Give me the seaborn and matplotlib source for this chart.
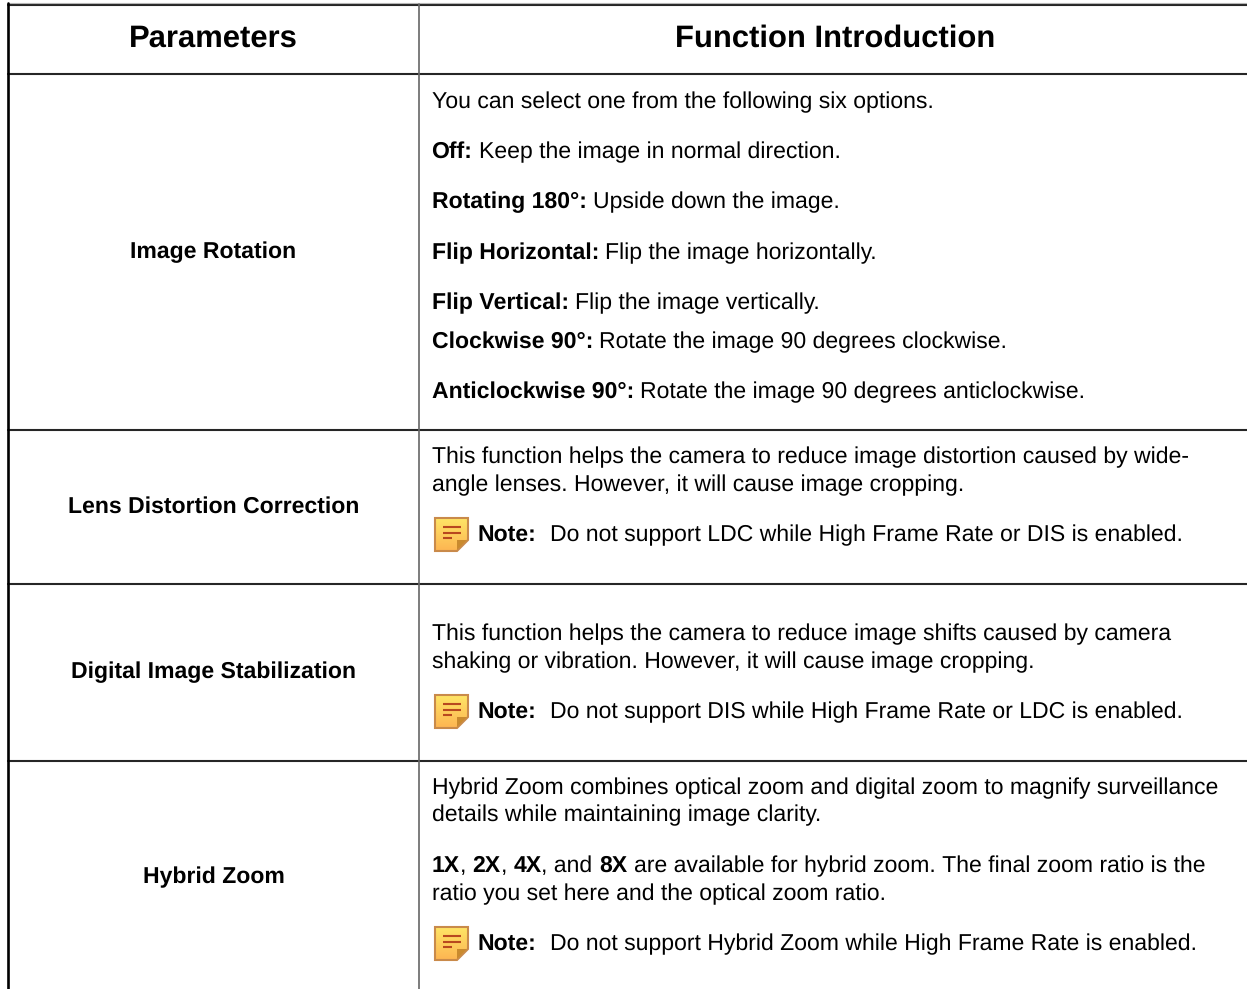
import numpy as np
import pandas as pd
import matplotlib.pyplot as plt
from matplotlib.patches import Polygon
import seaborn as sns

sns.set_theme(style="white")
plt.rcParams['font.family'] = ['Liberation Sans', 'DejaVu Sans']
plt.rcParams['text.hinting'] = 'no_hinting'
plt.rcParams['text.hinting_factor'] = 1

# Table text
headers = ["Parameters", "Function Introduction"]
parameters = ["Image Rotation", "Lens Distortion Correction", "Digital Image Stabilization", "Hybrid Zoom"]

# each line is a list of (text, is_bold) runs
rotation_lines = [
    [("You can select one from the following six options.", False)],
    [("Off:", True), (" Keep the image in normal direction.", False)],
    [("Rotating 180°:", True), (" Upside down the image.", False)],
    [("Flip Horizontal:", True), (" Flip the image horizontally.", False)],
    [("Flip Vertical:", True), (" Flip the image vertically.", False)],
    [("Clockwise 90°:", True), (" Rotate the image 90 degrees clockwise.", False)],
    [("Anticlockwise 90°:", True), (" Rotate the image 90 degrees anticlockwise.", False)],
]
lens_lines = [
    [("This function helps the camera to reduce image distortion caused by wide-", False)],
    [("angle lenses. However, it will cause image cropping.", False)],
]
digital_lines = [
    [("This function helps the camera to reduce image shifts caused by camera", False)],
    [("shaking or vibration. However, it will cause image cropping.", False)],
]
hybrid_lines = [
    [("Hybrid Zoom combines optical zoom and digital zoom to magnify surveillance", False)],
    [("details while maintaining image clarity.", False)],
    [("1X", True), (", ", False), ("2X", True), (", ", False), ("4X", True), (", and ", False), ("8X", True),
     (" are available for hybrid zoom. The final zoom ratio is the", False)],
    [("ratio you set here and the optical zoom ratio.", False)],
]
notes = [
    "Do not support LDC while High Frame Rate or DIS is enabled.",
    "Do not support DIS while High Frame Rate or LDC is enabled.",
    "Do not support Hybrid Zoom while High Frame Rate is enabled.",
]

W, H = 1247, 989
fig = plt.figure(figsize=(W / 100, H / 100), dpi=100)
ax = fig.add_axes([0, 0, 1, 1])
ax.set_xlim(0, W)
ax.set_ylim(H, 0)
ax.axis("off")

BODY = 16.5
HEAD = 22


def text_width(text, weight):
    # bars on both sides so that spaces at the ends get measured too
    renderer = fig.canvas.get_renderer()
    probe = ax.text(0, 0, "|" + text + "|", fontsize=BODY, fontweight=weight)
    bar = ax.text(0, 0, "||", fontsize=BODY, fontweight=weight)
    width = probe.get_window_extent(renderer).width - bar.get_window_extent(renderer).width
    probe.remove()
    bar.remove()
    return width


def draw_runs(runs, x, y):
    # write bold and normal pieces one after the other on the same baseline
    for text, bold in runs:
        weight = "bold" if bold else "normal"
        lead = len(text) - len(text.lstrip())
        ax.text(x + text_width(" " * lead, weight), y, text.strip(), fontsize=BODY, color="black",
                va="baseline", ha="left", fontweight=weight)
        x += text_width(text, weight)


def draw_icon(x, y):
    s = 33
    fold = 11
    outline = [(x, y), (x + s, y), (x + s, y + s - fold), (x + s - fold, y + s), (x, y + s)]
    ax.add_patch(Polygon(outline, closed=True, facecolor="none", edgecolor="#c98a4a", linewidth=1.5, zorder=4))
    grad = np.linspace(0, 1, 64).reshape(-1, 1)
    cmap = sns.blend_palette(["#ffe566", "#fdb552"], as_cmap=True)
    im = ax.imshow(grad, extent=(x, x + s, y + s, y), cmap=cmap, aspect="auto", zorder=3)
    im.set_clip_path(Polygon(outline, closed=True, transform=ax.transData))
    ax.add_patch(Polygon([(x + s - 1, y + s - fold), (x + s - fold, y + s - fold), (x + s - fold, y + s - 1)],
                         closed=True, facecolor="#c98a2e", edgecolor="none", zorder=5))
    for top, length in zip([9, 14.5, 20], [18, 18, 9]):
        ax.plot([x + 8, x + 8 + length], [y + top, y + top], color="#b8481f", lw=1.5, zorder=5,
                solid_capstyle="butt")


# table rules
rules = pd.DataFrame({
    "x": [8, W, 8, W, 8, W, 8, W, 8, W],
    "y": [4.8, 4.8, 74, 74, 430.2, 430.2, 583.7, 583.7, 760.7, 760.7],
    "rule": [0, 0, 1, 1, 2, 2, 3, 3, 4, 4],
})
sns.lineplot(data=rules, x="x", y="y", units="rule", estimator=None, sort=False, color="#262626", lw=1.5, ax=ax,
             legend=False)
ax.plot([8, W], [3.4, 3.4], color="#b5b5b5", lw=0.8)
ax.plot([8.3, 8.3], [3, H], color="black", lw=1.9)
ax.plot([418.7, 418.7], [4, H], color="#666666", lw=1.2)

# headers
header_x = [213.5, 835.5]
for label, x in zip(headers, header_x):
    ax.text(x, 47, label, fontsize=HEAD, fontweight="bold", color="black", ha="center", va="baseline")

# parameter names
parameter_y = [258, 513, 678, 883]
for label, y in zip(parameters, parameter_y):
    ax.text(213.5, y, label, fontsize=BODY, fontweight="bold", color="black", ha="center", va="baseline")

# body text
all_lines = rotation_lines + lens_lines + digital_lines + hybrid_lines
baselines = [108, 158, 208, 259, 309, 348, 398, 463, 491, 640, 668, 794, 821, 872, 900]
for runs, y in zip(all_lines, baselines):
    draw_runs(runs, 431.5, y)

# notes with icon
note_y = [541, 718, 950]
icon_y = [518, 695, 927]
for note, y, iy in zip(notes, note_y, icon_y):
    draw_icon(435, iy)
    ax.text(477.5, y + 1, "Note:", fontsize=BODY, fontweight="bold", color="black", va="baseline")
    ax.text(550.5, y, note, fontsize=BODY, color="black", va="baseline")

ax.set_xlim(0, W)
ax.set_ylim(H, 0)
fig.savefig("out.png", dpi=100)
